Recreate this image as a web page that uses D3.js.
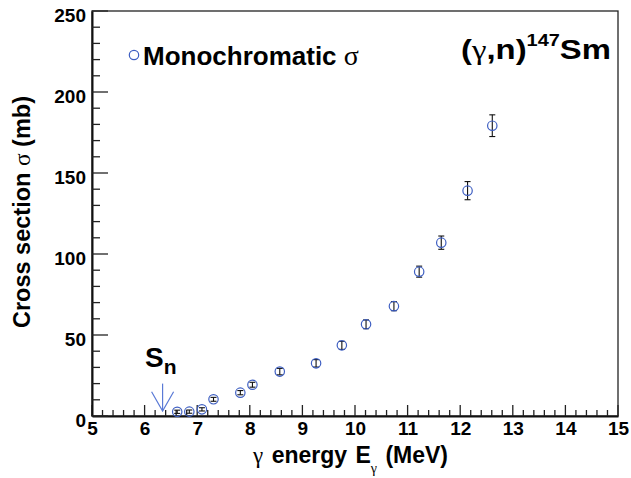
<!DOCTYPE html>
<html><head><meta charset="utf-8">
<script src="https://cdn.jsdelivr.net/npm/d3@7"></script>
<style>body{margin:0;background:#fff}svg{display:block}text{font-family:"Liberation Sans",Arial,sans-serif;font-weight:bold}</style>
</head><body><svg id="c" width="631" height="478"></svg>
<script>
const energy = [6.62, 6.85, 7.09, 7.31, 7.82, 8.05, 8.57, 9.26, 9.75, 10.21, 10.74, 11.22, 11.64, 12.14, 12.61];
const sigma  = [2.6, 2.7, 4.1, 10.3, 14.4, 19.3, 27.4, 32.5, 43.6, 56.6, 67.8, 89.1, 107.0, 139.1, 179.2];
const sigmaErr = [1.0, 1.0, 1.0, 1.2, 1.3, 1.5, 2.0, 2.3, 2.5, 2.7, 2.8, 3.4, 4.1, 5.6, 6.7];
const xTicks = [5, 6, 7, 8, 9, 10, 11, 12, 13, 14, 15];
const yTicks = [0, 50, 100, 150, 200, 250];
const Sn = 6.342;

const svg = d3.select("#c");
const L = 92, R = 618, T = 11, B = 416;
const x = d3.scaleLinear().domain([5, 15]).range([L, R]);
const y = d3.scaleLinear().domain([0, 250]).range([B, T]);
const blue = "#3d5ec2";
const serif = '"Liberation Serif","Times New Roman",serif';

// frame
svg.append("rect").attr("x", L).attr("y", T).attr("width", R - L).attr("height", B - T)
  .attr("fill", "none").attr("stroke", "#222").attr("stroke-width", 1.3);

// x axis
const xMinor = d3.range(50, 151, 2).map(v => v / 10).filter(v => !xTicks.includes(v));
const gx = svg.append("g").attr("transform", `translate(0,${B})`);
gx.call(d3.axisBottom(x).tickValues(xTicks).tickSize(0).tickFormat(d3.format("d")));
gx.select(".domain").attr("stroke", "#111").attr("stroke-width", 2);
gx.selectAll(".tick text").attr("y", 18.5).attr("dy", 0).attr("font-size", 19).attr("fill", "#000")
  .attr("font-family", '"Liberation Sans",Arial,sans-serif').attr("font-weight", "bold");
svg.append("g").selectAll("line").data(xTicks).join("line")
  .attr("x1", d => x(d)).attr("x2", d => x(d)).attr("y1", B).attr("y2", B - 11)
  .attr("stroke", "#222").attr("stroke-width", 1.3);
svg.append("g").selectAll("line").data(xMinor).join("line")
  .attr("x1", d => x(d)).attr("x2", d => x(d)).attr("y1", B).attr("y2", B - 6)
  .attr("stroke", "#222").attr("stroke-width", 1.3);

// y axis
const yMinor = d3.range(0, 251, 10).filter(v => !yTicks.includes(v));
const gy = svg.append("g").attr("transform", `translate(${L},0)`);
gy.call(d3.axisLeft(y).tickValues(yTicks).tickSize(0).tickFormat(d3.format("d")));
gy.select(".domain").attr("stroke", "#111").attr("stroke-width", 2);
gy.selectAll(".tick text").attr("x", -6).attr("dy", "0.45em").attr("font-size", 19).attr("fill", "#000")
  .attr("font-family", '"Liberation Sans",Arial,sans-serif').attr("font-weight", "bold")
  .attr("transform", "translate(0,2)");
svg.append("g").selectAll("line").data(yTicks).join("line")
  .attr("x1", L).attr("x2", L + 16).attr("y1", d => y(d)).attr("y2", d => y(d))
  .attr("stroke", "#222").attr("stroke-width", 1.3);
svg.append("g").selectAll("line").data(yMinor).join("line")
  .attr("x1", L).attr("x2", L + 8).attr("y1", d => y(d)).attr("y2", d => y(d))
  .attr("stroke", "#222").attr("stroke-width", 1.3);

// axis titles
const xt = svg.append("text").attr("x", 448).attr("y", 463).attr("text-anchor", "end").attr("font-size", 23)
  .attr("word-spacing", 2);
xt.append("tspan").attr("font-family", serif).attr("font-weight", "normal").text("γ");
xt.append("tspan").text(" energy E");
xt.append("tspan").attr("font-family", serif).attr("font-weight", "normal")
  .attr("font-size", 14).attr("dy", 10).text("γ");
xt.append("tspan").attr("dy", -10).text(" (MeV)");

const yt = svg.append("text").attr("transform", "translate(30,212) rotate(-90)").attr("text-anchor", "middle").attr("font-size", 23.5);
yt.append("tspan").text("Cross section ");
yt.append("tspan").attr("font-family", serif).attr("font-weight", "normal").text("σ");
yt.append("tspan").text(" (mb)");

// error bars
const pts = energy.map((e, i) => ({e, s: sigma[i], err: sigmaErr[i]}));
const eb = svg.append("g").attr("stroke", "#111").attr("stroke-width", 1.1);
eb.selectAll("line.v").data(pts).join("line").attr("class", "v")
  .attr("x1", d => x(d.e)).attr("x2", d => x(d.e)).attr("y1", d => y(d.s - d.err)).attr("y2", d => y(d.s + d.err));
eb.selectAll("line.t").data(pts).join("line").attr("class", "t")
  .attr("x1", d => x(d.e) - 3).attr("x2", d => x(d.e) + 3).attr("y1", d => y(d.s + d.err)).attr("y2", d => y(d.s + d.err));
eb.selectAll("line.b").data(pts).join("line").attr("class", "b")
  .attr("x1", d => x(d.e) - 3).attr("x2", d => x(d.e) + 3).attr("y1", d => y(d.s - d.err)).attr("y2", d => y(d.s - d.err));

svg.append("g").selectAll("circle").data(pts).join("circle")
  .attr("cx", d => x(d.e)).attr("cy", d => y(d.s)).attr("r", 4.7)
  .attr("fill", "none").attr("stroke", blue).attr("stroke-width", 1.2);

// legend
svg.append("circle").attr("cx", 134).attr("cy", 55).attr("r", 4.7).attr("fill", "none").attr("stroke", blue).attr("stroke-width", 1.2);
const lg = svg.append("text").attr("x", 143).attr("y", 65).attr("font-size", 26);
lg.append("tspan").text("Monochromatic ");
lg.append("tspan").attr("font-family", serif).attr("font-weight", "normal").attr("font-size", 28).text("σ");

// reaction label
const rl = svg.append("text").attr("x", 461).attr("y", 59).attr("font-size", 28)
  .attr("textLength", 150).attr("lengthAdjust", "spacingAndGlyphs");
rl.append("tspan").text("(");
rl.append("tspan").attr("font-family", serif).attr("font-weight", "normal").text("γ");
rl.append("tspan").text(",n)");
rl.append("tspan").attr("font-size", 17).attr("dy", -13).text("147");
rl.append("tspan").attr("dy", 13).text("Sm");

// Sn arrow
const ax = x(Sn);
const arrow = svg.append("g").attr("stroke", "#5a7ad6").attr("stroke-width", 1.2).attr("fill", "none");
arrow.append("line").attr("x1", ax).attr("x2", ax).attr("y1", y(20)).attr("y2", y(3));
arrow.append("polyline").attr("points", `${ax - 11},${y(15)} ${ax},${y(3)} ${ax + 11},${y(15)}`);
const sn = svg.append("text").attr("x", 145).attr("y", 367).attr("font-size", 28);
sn.append("tspan").text("S");
sn.append("tspan").attr("font-size", 21).attr("dy", 7).text("n");
</script></body></html>
